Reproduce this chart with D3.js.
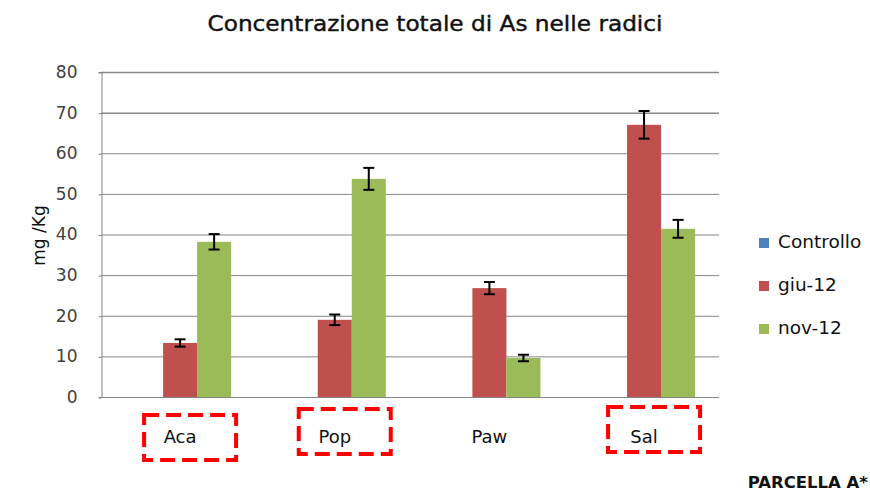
<!DOCTYPE html>
<html>
<head>
<meta charset="utf-8">
<script src="https://cdn.jsdelivr.net/npm/d3@7"></script>
<style>
  body { margin: 0; background: #fff; }
  svg { font-family: "DejaVu Sans", sans-serif; }
</style>
</head>
<body>
<div id="chart"></div>
<script>
var categories = ["Aca", "Pop", "Paw", "Sal"];
var seriesNames = ["Controllo", "giu-12", "nov-12"];
var seriesColors = ["#4F81BD", "#C0504D", "#9BBB59"];
// Controllo has no values in the picture
var controllo = [0, 0, 0, 0];
var giu12 = [13.3, 19.0, 26.8, 67.0];
var nov12 = [38.2, 53.7, 9.6, 41.4];
var giu12Err = [0.9, 1.3, 1.5, 3.4];
var nov12Err = [1.9, 2.7, 0.8, 2.2];
var yTicks = [0, 10, 20, 30, 40, 50, 60, 70, 80];
var boxed = ["Aca", "Pop", "Sal"];
var boxTop = [415, 409, 407];

var width = 870, height = 495;
var margin = {left: 101, right: 151, top: 72, bottom: 98};

var svg = d3.select("#chart").append("svg")
    .attr("width", width)
    .attr("height", height);

var y = d3.scaleLinear().domain([0, 80]).range([height - margin.bottom, margin.top]);

var x0 = d3.scaleBand()
    .domain(categories)
    .range([margin.left, width - margin.right])
    .paddingInner(0.34)
    .paddingOuter(0.168)
    .align(0.54);

var x1 = d3.scaleBand()
    .domain(seriesNames)
    .range([0, x0.bandwidth()]);

var rows = categories.map(function(c, i) {
    return {
        cat: c,
        vals: [
            {s: "Controllo", v: controllo[i], e: 0},
            {s: "giu-12", v: giu12[i], e: giu12Err[i]},
            {s: "nov-12", v: nov12[i], e: nov12Err[i]}
        ]
    };
});
var color = d3.scaleOrdinal().domain(seriesNames).range(seriesColors);

// title
svg.append("text")
    .attr("x", 435)
    .attr("y", 31)
    .attr("text-anchor", "middle")
    .attr("textLength", 455)
    .attr("lengthAdjust", "spacingAndGlyphs")
    .style("font-size", "21px")
    .attr("fill", "#111")
    .attr("stroke", "#111")
    .attr("stroke-width", 0.4)
    .text("Concentrazione totale di As nelle radici");

// gridlines
svg.append("g").selectAll("line")
    .data(yTicks)
    .enter().append("line")
    .attr("x1", margin.left)
    .attr("x2", width - margin.right)
    .attr("y1", function(d) { return y(d) + 0.5; })
    .attr("y2", function(d) { return y(d) + 0.5; })
    .attr("stroke", "#868686")
    .attr("stroke-width", function(d) { return d >= 70 ? 1.5 : 1; });

// y axis
var yAxis = svg.append("g")
    .attr("transform", "translate(" + (margin.left + 0.5) + ",0)")
    .call(d3.axisLeft(y).tickValues(yTicks).tickSize(3).tickPadding(21));
yAxis.select(".domain").attr("stroke", "#868686");
yAxis.selectAll(".tick line").attr("stroke", "#868686").attr("transform", "translate(0,0.5)");
yAxis.selectAll(".tick text")
    .style("font-size", "17px")
    .style("font-family", "\"DejaVu Sans\", sans-serif")
    .attr("fill", "#404040");

svg.append("text")
    .attr("transform", "translate(45," + (y(40) + 1) + ") rotate(-90)")
    .attr("text-anchor", "middle")
    .style("font-size", "17px")
    .attr("fill", "#111")
    .text("mg /Kg");

// bars
var groups = svg.append("g").selectAll("g")
    .data(rows)
    .enter().append("g")
    .attr("transform", function(d) { return "translate(" + x0(d.cat) + ",0)"; });

groups.selectAll("rect")
    .data(function(d) { return d.vals; })
    .enter().append("rect")
    .attr("x", function(d) { return x1(d.s); })
    .attr("width", x1.bandwidth())
    .attr("y", function(d) { return y(d.v); })
    .attr("height", function(d) { return y(0) - y(d.v); })
    .attr("fill", function(d) { return color(d.s); });

// error bars
var errs = groups.selectAll("g.err")
    .data(function(d) { return d.vals.filter(function(v) { return v.e > 0; }); })
    .enter().append("g")
    .attr("class", "err")
    .attr("stroke", "#000");

errs.append("line")
    .attr("x1", function(d) { return x1(d.s) + x1.bandwidth() / 2; })
    .attr("x2", function(d) { return x1(d.s) + x1.bandwidth() / 2; })
    .attr("y1", function(d) { return y(d.v + d.e); })
    .attr("y2", function(d) { return y(d.v - d.e); })
    .attr("stroke-width", 2);

[1, -1].forEach(function(sign) {
    errs.append("line")
        .attr("x1", function(d) { return x1(d.s) + x1.bandwidth() / 2 - 5.5; })
        .attr("x2", function(d) { return x1(d.s) + x1.bandwidth() / 2 + 5.5; })
        .attr("y1", function(d) { return y(d.v + sign * d.e); })
        .attr("y2", function(d) { return y(d.v + sign * d.e); })
        .attr("stroke-width", 2);
});

// x axis line
svg.append("line")
    .attr("x1", margin.left)
    .attr("x2", width - margin.right)
    .attr("y1", y(0) + 0.5)
    .attr("y2", y(0) + 0.5)
    .attr("stroke", "#868686");

// category labels
svg.append("g").selectAll("text")
    .data(categories)
    .enter().append("text")
    .attr("x", function(d) { return x0(d) + x0.bandwidth() / 2; })
    .attr("y", 443)
    .attr("text-anchor", "middle")
    .style("font-size", "18px")
    .attr("fill", "#111")
    .text(function(d) { return d; });

// red dashed annotation boxes
svg.append("g").selectAll("rect")
    .data(boxed)
    .enter().append("rect")
    .attr("x", function(d) { return x0(d) + x0.bandwidth() / 2 - 36; })
    .attr("y", function(d, i) { return boxTop[i]; })
    .attr("width", 92)
    .attr("height", 45)
    .attr("fill", "none")
    .attr("stroke", "#ff0000")
    .attr("stroke-width", 4)
    .attr("stroke-dasharray", "15,7");

// legend
var legend = svg.append("g").selectAll("g")
    .data(seriesNames)
    .enter().append("g")
    .attr("transform", function(d, i) { return "translate(759," + (248 + i * 43) + ")"; });

legend.append("rect")
    .attr("x", 0)
    .attr("y", -10)
    .attr("width", 10)
    .attr("height", 10)
    .attr("fill", function(d) { return color(d); });

legend.append("text")
    .attr("x", 19)
    .attr("y", 0)
    .style("font-size", "18.5px")
    .attr("fill", "#111")
    .text(function(d) { return d; });

svg.append("text")
    .attr("x", 868)
    .attr("y", 488)
    .attr("text-anchor", "end")
    .style("font-size", "16.5px")
    .style("font-weight", "bold")
    .attr("fill", "#111")
    .text("PARCELLA A*");
</script>
</body>
</html>
